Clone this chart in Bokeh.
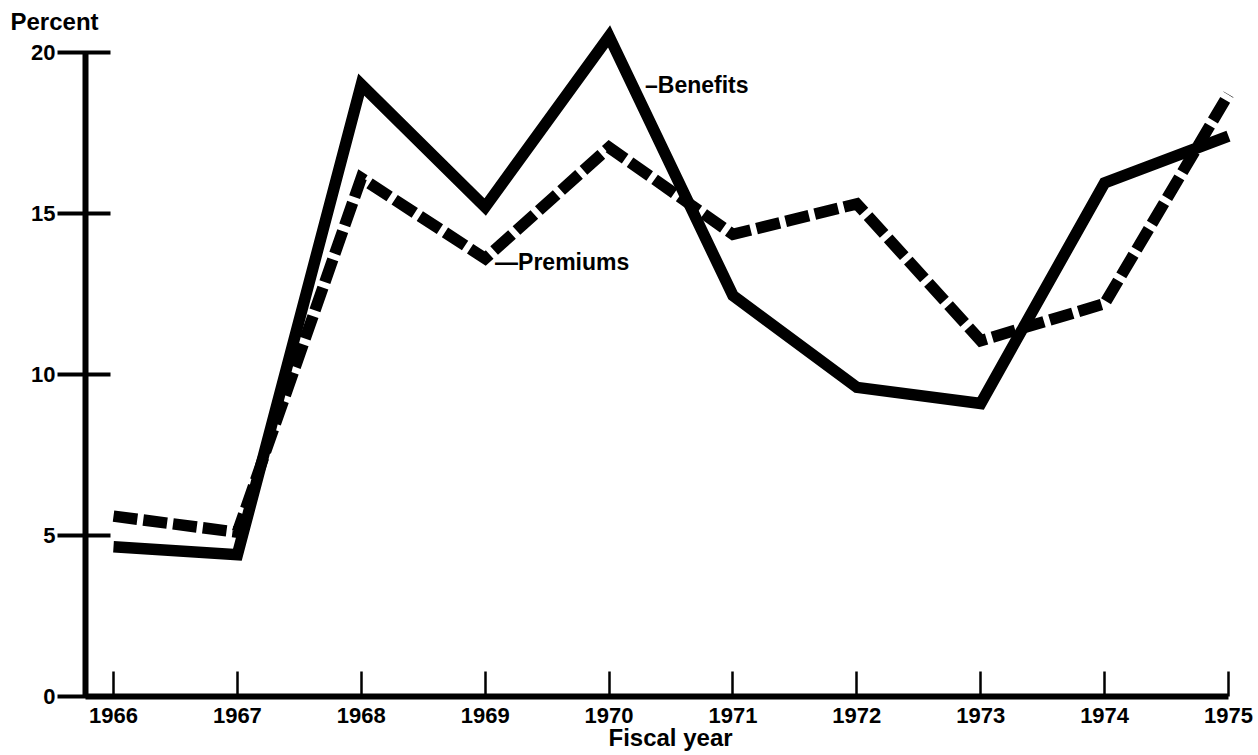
from bokeh.plotting import figure
from bokeh.models import FixedTicker, Range1d, Label, Title
from bokeh.embed import file_html
from bokeh.resources import INLINE

years = [1966, 1967, 1968, 1969, 1970, 1971, 1972, 1973, 1974, 1975]
benefits = [4.65, 4.4, 19.0, 15.2, 20.5, 12.45, 9.6, 9.1, 15.95, 17.4]
premiums = [5.6, 5.1, 16.1, 13.6, 17.05, 14.35, 15.3, 11.05, 12.2, 18.7]
y_ticks = [0, 5, 10, 15, 20]
x_tick_labels = [str(y) for y in years]

FONT = "Liberation Sans"

x_start = 1965.774
x_end = 1975.097

p = figure(width=1256, height=755, output_backend="svg", toolbar_location=None,
           title="Percent",
           x_range=Range1d(x_start, x_end), y_range=Range1d(0, 20.93),
           min_border_left=85, min_border_right=16, min_border_top=22,
           min_border_bottom=59)
p.outline_line_color = None
p.xgrid.visible = False
p.ygrid.visible = False
p.background_fill_color = "white"
p.border_fill_color = "white"

# "Percent" heading
p.title.align = "left"
p.title.offset = -75
p.title.standoff = -24
p.title.text_font = FONT
p.title.text_font_style = "bold"
p.title.text_font_size = "24px"
p.title.text_color = "black"

# lines
p.line(years, benefits, line_width=11.5, line_color="black", line_join="miter",
       line_cap="butt")
p.line(years, premiums, line_width=11.5, line_color="black", line_join="miter",
       line_cap="butt", line_dash="24 6")

# y axis
ya = p.yaxis[0]
ya.ticker = FixedTicker(ticks=y_ticks)
ya.bounds = (0, 20)
ya.axis_line_width = 6
ya.axis_line_color = "black"
ya.major_tick_line_width = 4
ya.major_tick_line_color = "black"
ya.major_tick_in = 25
ya.major_tick_out = 28
ya.minor_tick_line_color = None
ya.major_label_standoff = 2
ya.major_label_text_font = FONT
ya.major_label_text_font_style = "bold"
ya.major_label_text_font_size = "22px"
ya.major_label_text_color = "black"

# x axis
xa = p.xaxis[0]
xa.ticker = FixedTicker(ticks=years)
xa.major_label_overrides = {y: lab for y, lab in zip(years, x_tick_labels)}
xa.bounds = (x_start, years[-1])
xa.axis_line_width = 6
xa.axis_line_color = "black"
xa.major_tick_line_width = 2.5
xa.major_tick_line_color = "black"
xa.major_tick_in = 25
xa.major_tick_out = 0
xa.minor_tick_line_color = None
xa.major_label_standoff = 11
xa.major_label_text_font = FONT
xa.major_label_text_font_style = "bold"
xa.major_label_text_font_size = "22px"
xa.major_label_text_color = "black"

# "Fiscal year" below the axis
ft = Title(text="Fiscal year", align="left", offset=523, standoff=-7,
           text_font=FONT, text_font_style="bold", text_font_size="24px",
           text_color="black")
p.add_layout(ft, "below")

def lab(text, x, y):
    p.add_layout(Label(x=x, y=y, text=text,
                       text_font=FONT, text_font_style="bold",
                       text_font_size="23px", text_align="left",
                       text_baseline="middle", text_color="black"))

lab("\u2013Benefits", 1970.29, 18.98)
lab("\u2014Premiums", 1969.08, 13.48)

open("out.html", "w").write(file_html(p, INLINE))
